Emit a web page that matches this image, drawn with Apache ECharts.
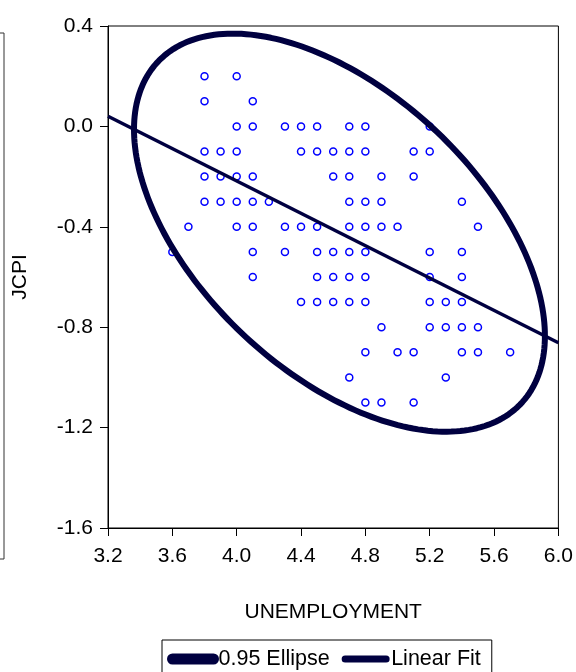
<!DOCTYPE html>
<html>
<head>
<meta charset="utf-8">
<script src="https://cdn.jsdelivr.net/npm/echarts@6/dist/echarts.min.js"></script>
<style>
  html, body { margin: 0; padding: 0; background: #fff; }
  #chart { width: 576px; height: 672px; }
</style>
</head>
<body>
<div id="chart"></div>
<script>
var unemployment = [
  3.8, 4.0,
  3.8, 4.1,
  4.0, 4.1, 4.3, 4.4, 4.5, 4.7, 4.8, 5.2,
  3.8, 3.9, 4.0, 4.4, 4.5, 4.6, 4.7, 4.8, 5.1, 5.2,
  3.8, 3.9, 4.0, 4.1, 4.6, 4.7, 4.9, 5.1,
  3.8, 3.9, 4.0, 4.1, 4.2, 4.7, 4.8, 4.9, 5.4,
  3.7, 4.0, 4.1, 4.3, 4.4, 4.5, 4.7, 4.8, 4.9, 5.0, 5.5,
  3.6, 4.1, 4.3, 4.5, 4.6, 4.7, 4.8, 5.2, 5.4,
  4.1, 4.5, 4.6, 4.7, 4.8, 5.2, 5.4,
  4.4, 4.5, 4.6, 4.7, 4.8, 5.2, 5.3, 5.4,
  4.9, 5.2, 5.3, 5.4, 5.5,
  4.8, 5.0, 5.1, 5.4, 5.5, 5.7,
  4.7, 5.3,
  4.8, 4.9, 5.1
];
var jcpi = [
  0.2, 0.2,
  0.1, 0.1,
  0.0, 0.0, 0.0, 0.0, 0.0, 0.0, 0.0, 0.0,
  -0.1, -0.1, -0.1, -0.1, -0.1, -0.1, -0.1, -0.1, -0.1, -0.1,
  -0.2, -0.2, -0.2, -0.2, -0.2, -0.2, -0.2, -0.2,
  -0.3, -0.3, -0.3, -0.3, -0.3, -0.3, -0.3, -0.3, -0.3,
  -0.4, -0.4, -0.4, -0.4, -0.4, -0.4, -0.4, -0.4, -0.4, -0.4, -0.4,
  -0.5, -0.5, -0.5, -0.5, -0.5, -0.5, -0.5, -0.5, -0.5,
  -0.6, -0.6, -0.6, -0.6, -0.6, -0.6, -0.6,
  -0.7, -0.7, -0.7, -0.7, -0.7, -0.7, -0.7, -0.7,
  -0.8, -0.8, -0.8, -0.8, -0.8,
  -0.9, -0.9, -0.9, -0.9, -0.9, -0.9,
  -1.0, -1.0,
  -1.1, -1.1, -1.1
];

var xTicks = [3.2, 6.0, 0.4];   // min, max, step
var yTicks = [-1.6, 0.4, 0.4];
var ellipseLevel = 0.95;
var chi2Level = 5.991;          // chi-square(2) at 0.95

var FONT = '"Liberation Sans", Arial, sans-serif';
var NAVY = '#000040';

// summary stats for the fit line and the confidence ellipse
var n = unemployment.length;
var mx = 0, my = 0;
for (var i = 0; i < n; i++) { mx += unemployment[i]; my += jcpi[i]; }
mx /= n; my /= n;
var sxx = 0, syy = 0, sxy = 0;
for (var i = 0; i < n; i++) {
  var dx = unemployment[i] - mx, dy = jcpi[i] - my;
  sxx += dx * dx; syy += dy * dy; sxy += dx * dy;
}
sxx /= (n - 1); syy /= (n - 1); sxy /= (n - 1);

var slope = sxy / sxx;
var intercept = my - slope * mx;
var fitLine = [
  [xTicks[0], intercept + slope * xTicks[0]],
  [xTicks[1], intercept + slope * xTicks[1]]
];

var l11 = Math.sqrt(sxx);
var l21 = sxy / l11;
var l22 = Math.sqrt(syy - l21 * l21);
var k = Math.sqrt(chi2Level);
var ellipse = [];
for (var s = 0; s <= 240; s++) {
  var t = s / 240 * Math.PI * 2;
  ellipse.push([
    mx + k * l11 * Math.cos(t),
    my + k * (l21 * Math.cos(t) + l22 * Math.sin(t))
  ]);
}

var points = unemployment.map(function (u, i) { return [u, jcpi[i]]; });

function oneDecimal(v) {
  return (Math.round(v * 10) / 10).toFixed(1);
}

var chart = echarts.init(document.getElementById('chart'));
chart.setOption({
  animation: false,
  backgroundColor: '#fff',
  textStyle: { fontFamily: FONT },
  grid: {
    left: 108, top: 26, right: 16, bottom: 144,
    show: true, borderColor: '#000', borderWidth: 1
  },
  xAxis: {
    type: 'value',
    min: xTicks[0], max: xTicks[1], interval: xTicks[2],
    name: 'UNEMPLOYMENT',
    nameLocation: 'middle',
    nameGap: 74,
    nameTextStyle: { fontSize: 21, color: '#000', fontFamily: FONT },
    axisLine: { onZero: false, lineStyle: { color: '#000', width: 1 } },
    axisTick: { length: 8, lineStyle: { color: '#000' } },
    axisLabel: { fontSize: 21, color: '#000', margin: 18, formatter: oneDecimal, fontFamily: FONT },
    splitLine: { show: false }
  },
  yAxis: {
    type: 'value',
    min: yTicks[0], max: yTicks[1], interval: yTicks[2],
    name: 'JCPI',
    nameLocation: 'middle',
    nameGap: 77,
    nameTextStyle: { fontSize: 21, color: '#000', fontFamily: FONT },
    axisLine: { show: true, onZero: false, lineStyle: { color: '#000', width: 1 } },
    axisTick: { show: true, length: 8, lineStyle: { color: '#000' } },
    axisLabel: { fontSize: 21, color: '#000', margin: 15, formatter: oneDecimal, fontFamily: FONT },
    splitLine: { show: false }
  },
  legend: {
    left: 162, top: 640,
    padding: [8, 11, 6, 5],
    itemGap: 12,
    itemWidth: 41, itemHeight: 2,
    borderColor: '#000', borderWidth: 1,
    textStyle: { fontSize: 21.5, color: '#000', fontFamily: FONT },
    data: [
      { name: ellipseLevel.toFixed(2) + ' Ellipse', lineStyle: { width: 11, cap: 'round' } },
      { name: 'Linear Fit', lineStyle: { width: 7, cap: 'round' } }
    ]
  },
  graphic: [{
    type: 'rect',
    shape: { x: -10, y: 33, width: 14, height: 526 },
    style: { fill: 'none', stroke: '#333', lineWidth: 1 },
    silent: true
  }],
  series: [
    {
      name: 'points',
      type: 'scatter',
      data: points,
      symbol: 'circle',
      symbolSize: 7,
      itemStyle: { color: '#fff', borderColor: '#0000ff', borderWidth: 1.5, opacity: 1 },
      z: 2
    },
    {
      name: ellipseLevel.toFixed(2) + ' Ellipse',
      type: 'line',
      data: ellipse,
      showSymbol: false,
      symbol: 'none',
      smooth: false,
      clip: true,
      lineStyle: { color: NAVY, width: 6, cap: 'round', join: 'round' },
      itemStyle: { color: NAVY },
      z: 3
    },
    {
      name: 'Linear Fit',
      type: 'line',
      data: fitLine,
      showSymbol: false,
      symbol: 'none',
      clip: true,
      lineStyle: { color: NAVY, width: 3.5 },
      itemStyle: { color: NAVY },
      z: 3
    }
  ]
});
</script>
</body>
</html>
